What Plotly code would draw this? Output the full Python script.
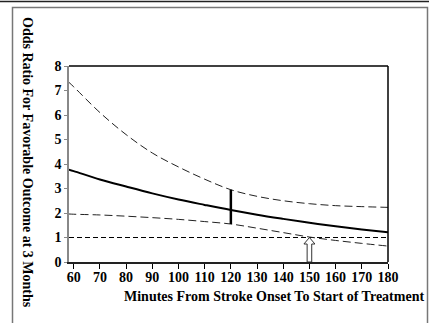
import plotly.graph_objects as go

# ---- data ----
minutes = [58, 60, 70, 80, 90, 100, 110, 120, 130, 140, 150, 160, 170, 180]
odds_ratio = [3.77, 3.71, 3.37, 3.08, 2.80, 2.55, 2.33, 2.12, 1.93, 1.76, 1.60, 1.46, 1.33, 1.21]
upper_ci = [7.35, 7.15, 6.10, 5.20, 4.45, 3.88, 3.38, 2.95, 2.68, 2.50, 2.38, 2.30, 2.26, 2.23]
lower_ci = [1.96, 1.95, 1.92, 1.87, 1.81, 1.74, 1.65, 1.55, 1.38, 1.20, 1.02, 0.88, 0.76, 0.65]
bar_minute = 120
bar_low, bar_high = 1.55, 2.95
arrow_minute = 150
arrow_top = 1.0
reference_or = 1.0
x_ticks = [60, 70, 80, 90, 100, 110, 120, 130, 140, 150, 160, 170, 180]
y_ticks = [0, 1, 2, 3, 4, 5, 6, 7, 8]
x_title = "Minutes From Stroke Onset To Start of Treatment"
y_title = "Odds Ratio For Favorable Outcome at 3 Months"

# ---- layout geometry ----
W, H = 429, 323
ML, MR, MT, MB = 69, 41, 66, 61
PW, PH = W - ML - MR, H - MT - MB
XR = [58.2, 180]
YR = [0, 8]
px_per_unit = PH / (YR[1] - YR[0])

FONT = "Liberation Serif"

fig = go.Figure()

# reference line at OR = 1
fig.add_trace(go.Scatter(x=[XR[0], XR[1]], y=[reference_or, reference_or], mode="lines",
                         line=dict(color="black", width=1.2, dash="5px,3px"),
                         hoverinfo="skip", showlegend=False))
# CI curves
fig.add_trace(go.Scatter(x=minutes, y=upper_ci, mode="lines", line_shape="spline",
                         line=dict(color="#222", width=1, dash="8px,4px"), showlegend=False))
fig.add_trace(go.Scatter(x=minutes, y=lower_ci, mode="lines", line_shape="spline",
                         line=dict(color="#222", width=1, dash="8px,4px"), showlegend=False))
# main curve
fig.add_trace(go.Scatter(x=minutes, y=odds_ratio, mode="lines", line_shape="spline",
                         line=dict(color="black", width=2), showlegend=False))
# vertical CI bar at 120 min
fig.add_trace(go.Scatter(x=[bar_minute, bar_minute], y=[bar_low, bar_high], mode="lines",
                         line=dict(color="black", width=2.5), showlegend=False))

# hollow arrow at 150 min (pixel-sized outline anchored at its tip)
hl = px_per_unit * (arrow_top - YR[0])
arrow_path = (f"M 0 0 L -5.5 -6.5 L -2.3 -6.5 L -2.3 {-hl:.1f} "
              f"L 2.3 {-hl:.1f} L 2.3 -6.5 L 5.5 -6.5 Z")
shapes = [
    dict(type="path", xref="x", yref="y", xsizemode="pixel", ysizemode="pixel",
         xanchor=arrow_minute, yanchor=arrow_top, path=arrow_path,
         line=dict(color="#333", width=1), fillcolor="white", layer="above"),
    # plot frame: top and right in black
    dict(type="line", xref="paper", yref="paper", x0=0, x1=1, y0=1, y1=1,
         line=dict(color="black", width=1.5)),
    dict(type="line", xref="paper", yref="paper", x0=1, x1=1, y0=0, y1=1,
         line=dict(color="black", width=1.5)),
]

def px_x(p):
    return (p - ML) / PW

def px_y(p):
    return (H - MB - p) / PH

# outer decorations: top rule and gray frame
shapes.append(dict(type="line", xref="paper", yref="paper", x0=px_x(0), x1=px_x(W),
                   y0=px_y(1.5), y1=px_y(1.5), line=dict(color="#222", width=1.5)))
shapes.append(dict(type="path", xref="paper", yref="paper",
                   path=f"M {px_x(12.5)} {px_y(H + 5)} L {px_x(12.5)} {px_y(7.5)} "
                        f"L {px_x(427.5)} {px_y(7.5)} L {px_x(427.5)} {px_y(H + 5)}",
                   line=dict(color="#777", width=1.5)))

fig.update_layout(
    width=W, height=H,
    margin=dict(l=ML, r=MR, t=MT, b=MB),
    paper_bgcolor="white", plot_bgcolor="white",
    shapes=shapes,
    xaxis=dict(range=XR, tickvals=x_ticks, ticks="outside", ticklen=5, tickcolor="black",
               showline=True, linecolor="#222", linewidth=1.5, showgrid=False, zeroline=False,
               ticklabelstandoff=-4,
               tickfont=dict(family=FONT, size=14, color="black", weight="bold")),
    yaxis=dict(range=YR, tickvals=y_ticks, ticks="outside", ticklen=3, tickcolor="#888",
               showline=True, linecolor="#888", linewidth=1.5, showgrid=False, zeroline=False,
               tickfont=dict(family=FONT, size=14, color="black", weight="bold")),
    annotations=[
        dict(text=x_title, xref="paper", yref="paper", x=px_x(426), y=px_y(296),
             xanchor="right", yanchor="middle", showarrow=False,
             font=dict(family=FONT, size=14, color="black", weight="bold")),
        dict(text=y_title, xref="paper", yref="paper", x=px_x(28), y=px_y(162),
             xanchor="center", yanchor="middle", textangle=90, showarrow=False,
             font=dict(family=FONT, size=14, color="black", weight="bold")),
    ],
)

fig.write_html("out.html", config={"displayModeBar": False},
               post_script="document.body.style.margin='0px';document.body.style.padding='0px';")
